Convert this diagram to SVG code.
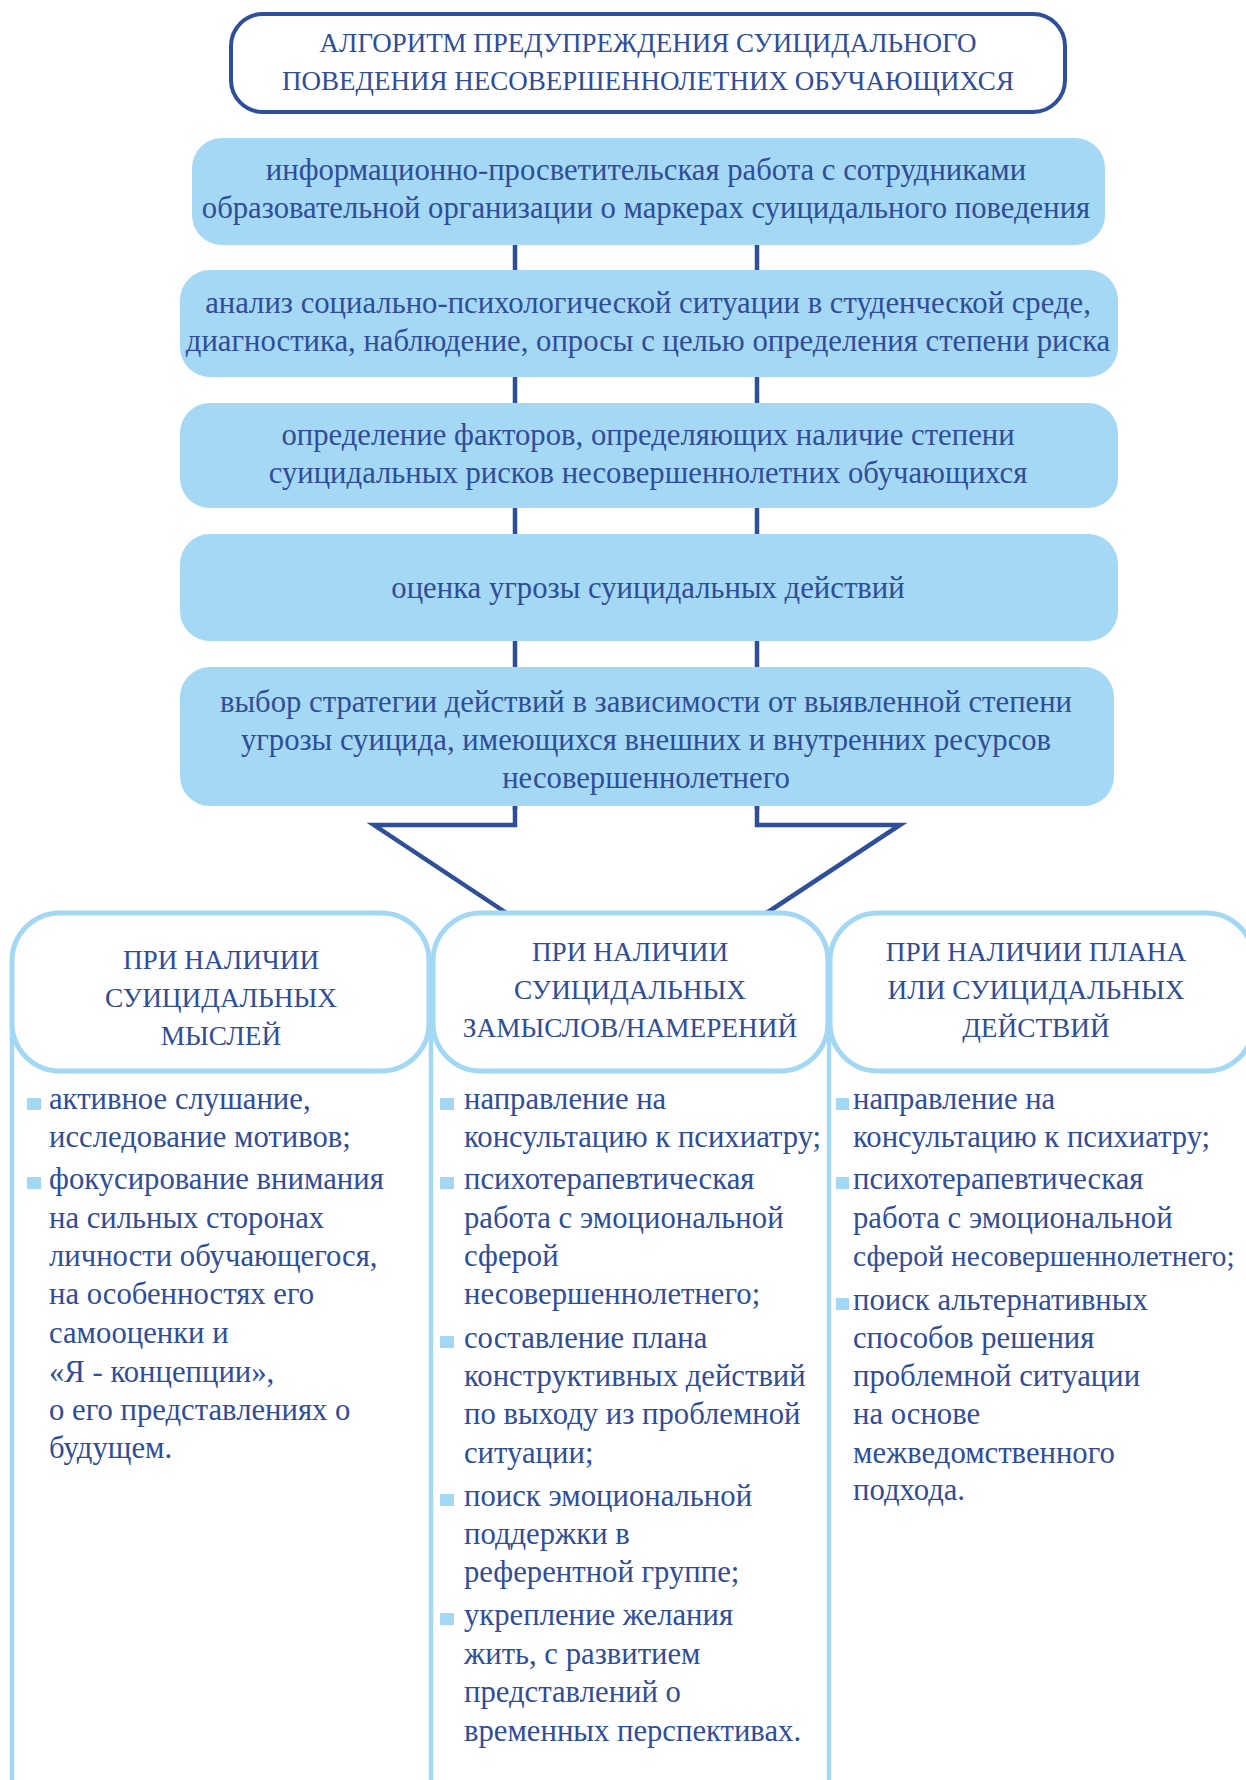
<svg xmlns="http://www.w3.org/2000/svg" width="1246" height="1780" viewBox="0 0 1246 1780">
<style>
  .t { font-family: "Liberation Serif", "DejaVu Serif", serif; fill: #2f4d98; font-size: 30.7px; }
  .h { font-size: 27.3px; }
  .tt { font-size: 27px; }
  .n { font-size: 29.4px; }
  .c { text-anchor: middle; }
  .box { fill: #a5d8f4; }
  .title { fill: #ffffff; stroke: #2f4f9a; stroke-width: 4; }
  .hdr { fill: #ffffff; stroke: #a3d8f4; stroke-width: 5; }
  .col { stroke: #a3d8f4; stroke-width: 4.5; fill: none; }
  .conn { stroke: #2f4f9a; stroke-width: 4.5; fill: none; }
  .b { fill: #a3d8f4; }
</style>
<rect width="1246" height="1780" fill="#ffffff"/>
<g id="connectors">
  <line class="conn" x1="515" y1="240" x2="515" y2="810"/>
  <line class="conn" x1="757" y1="240" x2="757" y2="810"/>
  <polyline class="conn" points="515,805 515,825 374,825 508,914"/>
  <polyline class="conn" points="757,805 757,825 900,825 765,914"/>
  <line class="col" x1="12" y1="990" x2="12" y2="1780"/>
  <line class="col" x1="431" y1="990" x2="431" y2="1780"/>
  <line class="col" x1="829" y1="990" x2="829" y2="1780"/>
</g>
<g id="title">
  <rect class="title" x="231" y="14" width="834" height="98" rx="32"/>
  <text class="t tt c" x="648" y="52">АЛГОРИТМ ПРЕДУПРЕЖДЕНИЯ СУИЦИДАЛЬНОГО</text>
  <text class="t tt c" x="648" y="90">ПОВЕДЕНИЯ НЕСОВЕРШЕННОЛЕТНИХ ОБУЧАЮЩИХСЯ</text>
</g>
<g id="step1">
  <rect class="box" x="192" y="138" width="913" height="107" rx="30"/>
  <text class="t c" x="646" y="180">информационно-просветительская работа с сотрудниками</text>
  <text class="t c" x="646" y="218">образовательной организации о маркерах суицидального поведения</text>
</g>
<g id="step2">
  <rect class="box" x="180" y="270" width="938" height="107" rx="30"/>
  <text class="t c" x="648" y="313">анализ социально-психологической ситуации в студенческой среде,</text>
  <text class="t c" x="648" y="351">диагностика, наблюдение, опросы с целью определения степени риска</text>
</g>
<g id="step3">
  <rect class="box" x="180" y="403" width="938" height="105" rx="30"/>
  <text class="t c" x="648" y="445">определение факторов, определяющих наличие степени</text>
  <text class="t c" x="648" y="483">суицидальных рисков несовершеннолетних обучающихся</text>
</g>
<g id="step4">
  <rect class="box" x="180" y="534" width="938" height="107" rx="30"/>
  <text class="t c" x="648" y="598">оценка угрозы суицидальных действий</text>
</g>
<g id="step5">
  <rect class="box" x="180" y="667" width="934" height="139" rx="30"/>
  <text class="t c" x="646" y="712">выбор стратегии действий в зависимости от выявленной степени</text>
  <text class="t c" x="646" y="750">угрозы суицида, имеющихся внешних и внутренних ресурсов</text>
  <text class="t c" x="646" y="788">несовершеннолетнего</text>
</g>
<g id="col1">
  <rect class="hdr" x="12" y="913" width="417" height="158" rx="48"/>
  <text class="t h c" x="221" y="969">ПРИ НАЛИЧИИ</text>
  <text class="t h c" x="221" y="1007">СУИЦИДАЛЬНЫХ</text>
  <text class="t h c" x="221" y="1045">МЫСЛЕЙ</text>
  <rect class="b" x="27" y="1098" width="14" height="12"/>
  <text class="t" x="49" y="1109">активное слушание,</text>
  <text class="t" x="49" y="1147">исследование мотивов;</text>
  <rect class="b" x="27" y="1177" width="14" height="12"/>
  <text class="t" x="49" y="1189">фокусирование внимания</text>
  <text class="t" x="49" y="1228">на сильных сторонах</text>
  <text class="t" x="49" y="1266">личности обучающегося,</text>
  <text class="t" x="49" y="1304">на особенностях его</text>
  <text class="t" x="49" y="1343">самооценки и</text>
  <text class="t" x="49" y="1382">«Я - концепции»,</text>
  <text class="t" x="49" y="1420">о его представлениях о</text>
  <text class="t" x="49" y="1458">будущем.</text>
</g>
<g id="col2">
  <rect class="hdr" x="433" y="913" width="395" height="158" rx="48"/>
  <text class="t h c" x="630" y="961">ПРИ НАЛИЧИИ</text>
  <text class="t h c" x="630" y="999">СУИЦИДАЛЬНЫХ</text>
  <text class="t h c" x="630" y="1037">ЗАМЫСЛОВ/НАМЕРЕНИЙ</text>
  <rect class="b" x="440" y="1098" width="14" height="12"/>
  <text class="t" x="464" y="1109">направление на</text>
  <text class="t" x="464" y="1147">консультацию к психиатру;</text>
  <rect class="b" x="440" y="1177" width="14" height="12"/>
  <text class="t" x="464" y="1189">психотерапевтическая</text>
  <text class="t" x="464" y="1228">работа с эмоциональной</text>
  <text class="t" x="464" y="1266">сферой</text>
  <text class="t" x="464" y="1304">несовершеннолетнего;</text>
  <rect class="b" x="440" y="1336" width="14" height="12"/>
  <text class="t" x="464" y="1348">составление плана</text>
  <text class="t" x="464" y="1386">конструктивных действий</text>
  <text class="t" x="464" y="1424">по выходу из проблемной</text>
  <text class="t" x="464" y="1463">ситуации;</text>
  <rect class="b" x="440" y="1494" width="14" height="12"/>
  <text class="t" x="464" y="1506">поиск эмоциональной</text>
  <text class="t" x="464" y="1544">поддержки в</text>
  <text class="t" x="464" y="1582">референтной группе;</text>
  <rect class="b" x="440" y="1613" width="14" height="12"/>
  <text class="t" x="464" y="1625">укрепление желания</text>
  <text class="t" x="464" y="1664">жить, с развитием</text>
  <text class="t" x="464" y="1702">представлений о</text>
  <text class="t" x="464" y="1741">временных перспективах.</text>
</g>
<g id="col3">
  <rect class="hdr" x="830" y="913" width="424" height="158" rx="48"/>
  <text class="t h c" x="1036" y="961">ПРИ НАЛИЧИИ ПЛАНА</text>
  <text class="t h c" x="1036" y="999">ИЛИ СУИЦИДАЛЬНЫХ</text>
  <text class="t h c" x="1036" y="1037">ДЕЙСТВИЙ</text>
  <rect class="b" x="836" y="1098" width="13" height="12"/>
  <text class="t" x="853" y="1109">направление на</text>
  <text class="t" x="853" y="1147">консультацию к психиатру;</text>
  <rect class="b" x="836" y="1177" width="13" height="12"/>
  <text class="t" x="853" y="1189">психотерапевтическая</text>
  <text class="t" x="853" y="1228">работа с эмоциональной</text>
  <text class="t n" x="853" y="1266">сферой несовершеннолетнего;</text>
  <rect class="b" x="836" y="1298" width="13" height="12"/>
  <text class="t" x="853" y="1310">поиск альтернативных</text>
  <text class="t" x="853" y="1348">способов решения</text>
  <text class="t" x="853" y="1386">проблемной ситуации</text>
  <text class="t" x="853" y="1424">на основе</text>
  <text class="t" x="853" y="1463">межведомственного</text>
  <text class="t" x="853" y="1500">подхода.</text>
</g>
</svg>
